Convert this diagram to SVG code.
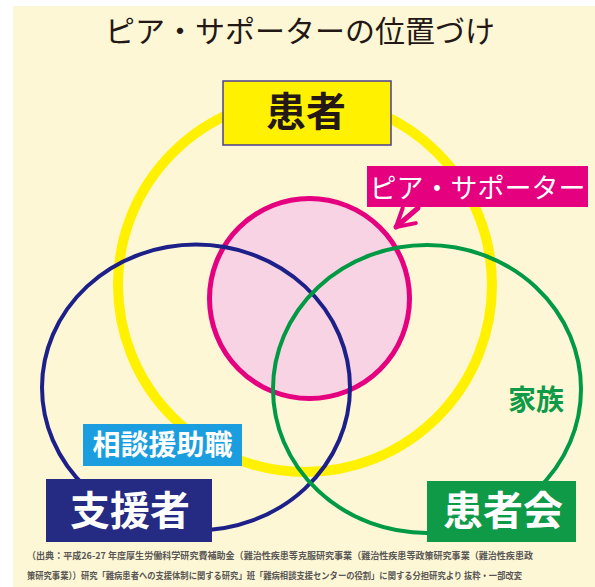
<svg xmlns="http://www.w3.org/2000/svg" width="595" height="587" viewBox="0 0 595 587">
<style>
text{font-family:"Noto Sans CJK JP","Noto Sans CJK SC",sans-serif}
.ring{fill:none}
.lbl{text-anchor:middle;font-weight:700}
.w{fill:#ffffff}
.note{font-size:9.5px;fill:#5a5757;font-weight:700}
</style>
<defs>
<marker id="chev" viewBox="0 0 10 10" refX="8" refY="5" markerWidth="5" markerHeight="5" orient="auto" markerUnits="strokeWidth">
<path d="M1,1 L8,5 L1,9" fill="none" stroke="#e4007f" stroke-width="1.6" stroke-linecap="round" stroke-linejoin="round"/>
</marker>
</defs>
<rect x="0" y="0" width="595" height="587" fill="#ffffff"/>
<rect x="13" y="6" width="582" height="581" fill="#fdf7d6"/>
<text x="300" y="42" font-size="30" fill="#231815" text-anchor="middle">ピア・サポーターの位置づけ</text>
<g id="circle-kanja">
<circle cx="305" cy="285" r="187" class="ring" stroke="#fff100" stroke-width="10"/>
</g>
<g id="circle-peer">
<circle cx="309.5" cy="298.5" r="100" fill="#f8d3e4" stroke="#e4007f" stroke-width="5"/>
</g>
<g id="circle-shiensha">
<ellipse cx="196" cy="387.5" rx="154" ry="143" class="ring" stroke="#1d2088" stroke-width="4"/>
</g>
<g id="circle-kanjakai">
<ellipse cx="427" cy="389" rx="154" ry="144" class="ring" stroke="#009944" stroke-width="4"/>
</g>
<g id="connectors">
<line x1="418" y1="208" x2="396" y2="227" stroke="#e4007f" stroke-width="5" stroke-linecap="round" marker-end="url(#chev)"/>
</g>
<g id="node-kanja">
<rect x="223" y="81" width="168" height="64" fill="#fff100" stroke="#4b3f8f" stroke-width="1.5"/>
<text x="306" y="126" font-size="40" class="lbl" fill="#231815">患者</text>
</g>
<g id="node-peer">
<rect x="367" y="166" width="221" height="41" fill="#e4007f"/>
<text x="477.5" y="198" font-size="27" text-anchor="middle" class="w">ピア・サポーター</text>
</g>
<g id="node-soudan">
<rect x="83" y="424" width="159" height="42" fill="#1a9ee0"/>
<text x="162.5" y="455" font-size="28" class="lbl w">相談援助職</text>
</g>
<g id="node-shiensha">
<rect x="46" y="479" width="166" height="63" fill="#252a82"/>
<text x="130" y="525" font-size="40" class="lbl w">支援者</text>
</g>
<g id="node-kanjakai">
<rect x="427" y="481" width="149" height="61" fill="#0f9a48"/>
<text x="503" y="525" font-size="40" class="lbl w">患者会</text>
</g>
<g id="node-kazoku">
<text x="536" y="410" font-size="28" class="lbl" fill="#0f9a48">家族</text>
</g>
<text x="27" y="559" class="note" textLength="506" lengthAdjust="spacingAndGlyphs">（出典：平成26-27 年度厚生労働科学研究費補助金（難治性疾患等克服研究事業（難治性疾患等政策研究事業（難治性疾患政</text>
<text x="27" y="579" class="note" textLength="495" lengthAdjust="spacingAndGlyphs">策研究事業））研究「難病患者への支援体制に関する研究」班「難病相談支援センターの役割」に関する分担研究より 抜粋・一部改変</text>
</svg>
